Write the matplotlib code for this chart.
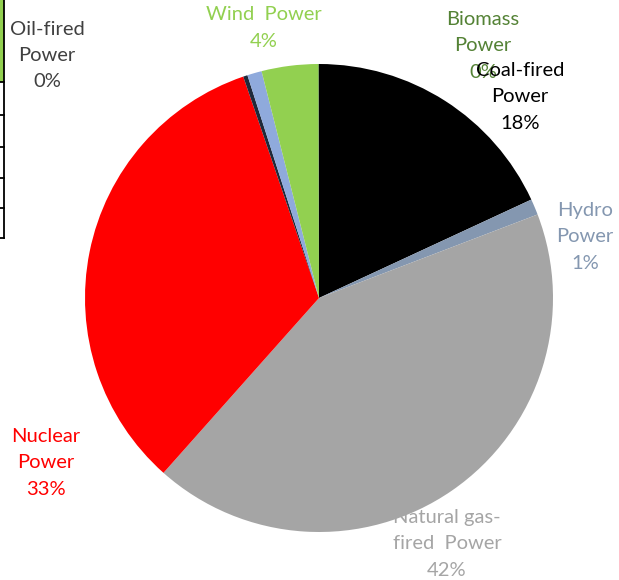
import matplotlib.pyplot as plt
from matplotlib.lines import Line2D
from matplotlib.patches import Rectangle

# parts of the mix, clockwise from 12 o'clock
fonti = ['Coal-fired Power', 'Hydro Power', 'Natural gas-fired Power', 'Nuclear Power',
         'Oil-fired Power', 'Other', 'Wind Power', 'Biomass Power']
quote = [18.1, 1.1, 42.4, 33.2, 0.3, 1.0, 3.9, 0.05]
colori = ['#000000', '#8497B0', '#A5A5A5', '#FF0000', '#1F2A3A', '#8FAADC', '#92D050', '#548235']

# labels shown on the chart (text, percent, colour)
etichette = [('Coal-fired\nPower', '18%', '#000000'),
             ('Hydro\nPower', '1%', '#8497B0'),
             ('Natural gas-\nfired  Power', '42%', '#A5A5A5'),
             ('Nuclear\nPower', '33%', '#FF0000'),
             ('Oil-fired\nPower', '0%', '#404040'),
             ('Wind  Power', '4%', '#92D050'),
             ('Biomass\nPower', '0%', '#548235')]
# label centres in pie units (radius = 1)
pos_etichette = [(0.859, 0.859), (1.137, 0.261), (0.547, -1.051), (-1.167, -0.705),
                 (-1.162, 1.038), (-0.235, 1.154), (0.701, 1.077)]

W, H = 619, 580
fig = plt.figure(figsize=(W / 100, H / 100), dpi=100)
cx, cy, r = 319, 298, 234
ax = fig.add_axes([(cx - r) / W, (H - cy - r) / H, 2 * r / W, 2 * r / H])
ax.pie(quote, colors=colori, startangle=90, counterclock=False, radius=1,
       wedgeprops=dict(linewidth=0))
ax.set_xlim(-1, 1)
ax.set_ylim(-1, 1)
ax.set_aspect('equal')
ax.axis('off')

# draw biomass first so coal label sits on top of it (as in the original)
ordine = [6, 5, 4, 3, 2, 1, 0]
for i in ordine:
    testo, perc, col = etichette[i]
    x, y = pos_etichette[i]
    ax.text(x, y, testo + '\n' + perc, color=col, ha='center', va='center',
            fontsize=14.5, family='Lato', linespacing=1.65, clip_on=False)

# piece of the cut-off table at the left edge
fig.add_artist(Rectangle((0, 1 - 82 / H), 3.5 / W, 82 / H, transform=fig.transFigure,
                         color='#92D050', lw=0))
fig.add_artist(Line2D([4 / W, 4 / W], [1, 1 - 238 / H], transform=fig.transFigure,
                      color='black', lw=1.3))
for yy in [82, 115, 147, 178, 208, 238]:
    fig.add_artist(Line2D([0, 4 / W], [1 - yy / H, 1 - yy / H], transform=fig.transFigure,
                          color='black', lw=1.3))

fig.savefig('out.png', dpi=100)
